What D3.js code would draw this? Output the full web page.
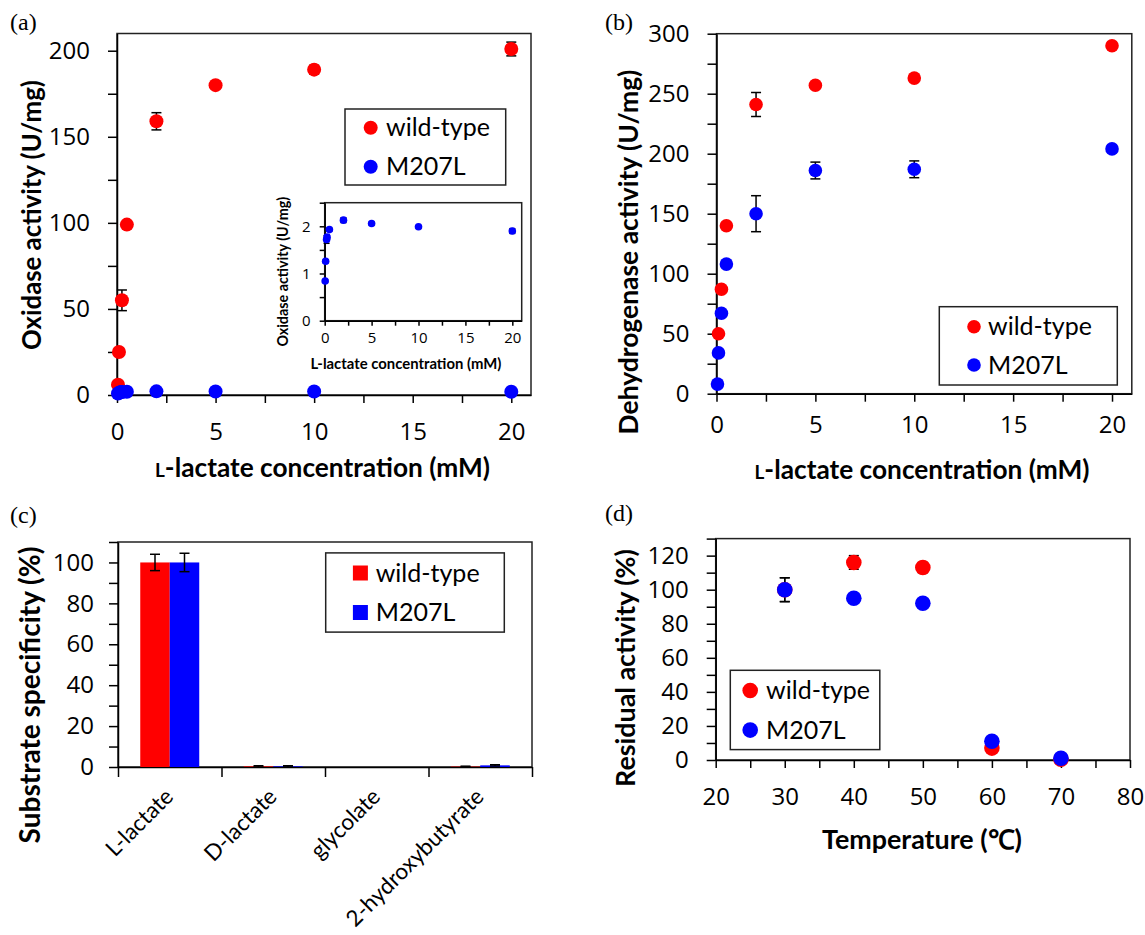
<!DOCTYPE html>
<html><head><meta charset="utf-8">
<script src="https://cdn.jsdelivr.net/npm/d3@7/dist/d3.min.js"></script>
<style>
body{margin:0;background:#fff;}
svg text{font-family:Lato, "Open Sans", sans-serif;fill:#000;}
svg .tick text{font-family:"Open Sans", Lato, sans-serif;}
</style></head>
<body><svg id="chart" width="1145" height="935"></svg>
<script>
// ---------- DATA ----------
// (a) oxidase activity
const concA_wt   = [0.05, 0.1, 0.25, 0.5, 2, 5, 10, 20];
const oxA_wt     = [6, 25, 55, 99, 159, 180, 189, 201];
const oxA_wtErr  = [0.5, 1, 6, 1.5, 5, 1.5, 2.5, 4];
const concA_mut  = [0.05, 0.1, 0.2, 0.25, 0.5, 2, 5, 10, 20];
const oxA_mut    = [0.84, 1.26, 1.72, 1.77, 1.93, 2.13, 2.06, 1.99, 1.90];
const oxA_mutErr = [0.02, 0.03, 0.08, 0.04, 0.03, 0.05, 0.03, 0.02, 0.05];
// (b) dehydrogenase activity
const concB_wt   = [0.1, 0.25, 0.5, 2, 5, 10, 20];
const dhB_wt     = [50, 87, 140, 241, 257, 263, 290];
const dhB_wtErr  = [1, 1, 1.5, 10, 2, 2, 2];
const concB_mut  = [0.05, 0.1, 0.25, 0.5, 2, 5, 10, 20];
const dhB_mut    = [8, 34, 67, 108, 150, 186, 187, 204];
const dhB_mutErr = [1, 1, 1, 1.5, 15, 7, 7, 2];
// (c) substrate specificity
const substrates = ["L-lactate", "D-lactate", "glycolate", "2-hydroxybutyrate"];
const specWt     = [100, 0.3, 0, 0.2];
const specWtErr  = [4, 0.3, 0, 0.2];
const specMut    = [100, 0.3, 0, 0.8];
const specMutErr = [4.5, 0.3, 0, 0.3];
// (d) thermal stability
const temps      = [30, 40, 50, 60, 70];
const resWt      = [100, 116, 113, 7, 0.5];
const resWtErr   = [7, 4, 3, 1, 0.5];
const resMut     = [100, 95, 92, 11, 1];
const resMutErr  = [7, 1.5, 1.5, 1, 0.5];
// series names / colours
const seriesNames  = ["wild-type", "M207L"];
const seriesColors = ["#ff0000", "#0000ff"];

// ---------- HELPERS ----------
const svg = d3.select("#chart");
const zip = (xs, ys, es) => xs.map((x, i) => ({x, y: ys[i], e: es[i]}));

function fit(sel, target) {
  const len = sel.node().getComputedTextLength();
  const fs = parseFloat(sel.style("font-size"));
  sel.style("font-size", (fs * target / len) + "px");
  return sel;
}
function box(l, t, r, b) {
  svg.append("rect").attr("x", l).attr("y", t).attr("width", r - l).attr("height", b - t)
    .attr("fill", "#fff").attr("stroke", "#222").attr("stroke-width", 1.5);
}
function bottomAxis(x, yPix, ticks, labelFn, fs, pad, tl) {
  const g = svg.append("g").attr("transform", `translate(0,${yPix})`)
    .call(d3.axisBottom(x).tickValues(ticks).tickSize(tl).tickSizeOuter(0).tickPadding(pad).tickFormat(labelFn));
  g.selectAll("text").style("font-size", fs + "px");
  g.selectAll("line,path").attr("stroke", "#000").attr("stroke-width", 1.5);
  return g;
}
function leftAxis(y, xPix, ticks, labelFn, fs, pad, tl) {
  const g = svg.append("g").attr("transform", `translate(${xPix},0)`)
    .call(d3.axisLeft(y).tickValues(ticks).tickSize(tl).tickSizeOuter(0).tickPadding(pad).tickFormat(labelFn));
  g.selectAll("text").style("font-size", fs + "px");
  g.selectAll("line,path").attr("stroke", "#000").attr("stroke-width", 1.5);
  return g;
}
function errorBars(pts, x, y, cap) {
  const g = svg.append("g").attr("stroke", "#000").attr("stroke-width", 1.5);
  pts.filter(d => d.e > 0).forEach(d => {
    const cx = x(d.x), y1 = y(d.y + d.e), y0 = y(Math.max(0, d.y - d.e));
    g.append("line").attr("x1", cx).attr("x2", cx).attr("y1", y1).attr("y2", y0);
    g.append("line").attr("x1", cx - cap).attr("x2", cx + cap).attr("y1", y1).attr("y2", y1);
    g.append("line").attr("x1", cx - cap).attr("x2", cx + cap).attr("y1", y0).attr("y2", y0);
  });
}
function dots(pts, x, y, r, color) {
  svg.append("g").selectAll("circle").data(pts).join("circle")
    .attr("cx", d => x(d.x)).attr("cy", d => y(d.y)).attr("r", r).attr("fill", color);
}
function yTitle(txt, cx, cy, len) {
  const t = svg.append("text").attr("transform", `translate(${cx},${cy}) rotate(-90)`)
    .attr("text-anchor", "middle").attr("dy", "0.35em")
    .style("font-size", "24px").style("font-weight", "bold").text(txt);
  fit(t, len);
}
function xTitle(txt, cx, cy, len, smallL) {
  const t = svg.append("text").attr("x", cx).attr("y", cy).attr("text-anchor", "middle")
    .attr("dy", "0.35em").style("font-size", "24px").style("font-weight", "bold");
  if (smallL) {
    t.append("tspan").style("font-size", "72%").text(txt.slice(0, 1));
    t.append("tspan").text(txt.slice(1));
  } else t.text(txt);
  fit(t, len);
}
function panelLabel(txt, x, y) {
  svg.append("text").attr("x", x).attr("y", y)
    .style("font-family", "'Liberation Serif', 'DejaVu Serif', serif").style("font-size", "24px").text(txt);
}
function legend(l, t, r, b, mx, ys, tx, fs, kind, size) {
  box(l, t, r, b);
  seriesNames.forEach((n, i) => {
    if (kind === "dot") svg.append("circle").attr("cx", mx).attr("cy", ys[i]).attr("r", size).attr("fill", seriesColors[i]);
    else svg.append("rect").attr("x", mx - size / 2).attr("y", ys[i] - size / 2).attr("width", size).attr("height", size).attr("fill", seriesColors[i]);
    svg.append("text").attr("x", tx).attr("y", ys[i]).attr("dy", "0.35em").style("font-size", fs + "px").text(n);
  });
}
const every = (step) => (d) => (Math.abs(d / step - Math.round(d / step)) < 1e-9 ? d3.format("~g")(d) : "");

const TFS = 24;   // tick font
const LFS = 25;   // legend font

// ---------- PANEL (a) ----------
{
  const x = d3.scaleLinear().domain([0, 21]).range([117, 531]);
  const y = d3.scaleLinear().domain([0, 210]).range([395, 33.5]);
  box(117, 33.5, 531, 395);
  bottomAxis(x, 395, d3.range(0, 20.01, 2.5), every(5), TFS, 20, 8);
  leftAxis(y, 117, d3.range(0, 200.1, 25), every(50), TFS, 18, 9);
  const wt = zip(concA_wt, oxA_wt, oxA_wtErr), mu = zip(concA_mut, oxA_mut, oxA_mutErr);
  errorBars(wt, x, y, 5); errorBars(mu, x, y, 5);
  dots(wt, x, y, 7, seriesColors[0]); dots(mu, x, y, 7, seriesColors[1]);
  legend(345, 109, 505.7, 185, 370.7, [127.7, 166.7], 386, LFS, "dot", 7);
  yTitle("Oxidase activity (U/mg)", 31.7, 215, 270);
  xTitle("L-lactate concentration (mM)", 322.5, 468, 335, true);
  panelLabel("(a)", 10, 30);

  // inset
  const xi = d3.scaleLinear().domain([0, 21]).range([324.7, 521.7]);
  const yi = d3.scaleLinear().domain([0, 2.5]).range([320.7, 202.7]);
  box(324.7, 202.7, 521.7, 320.7);
  bottomAxis(xi, 320.7, d3.range(0, 20.01, 2.5), every(5), 15, 7, 5);
  leftAxis(yi, 324.7, d3.range(0, 2.51, 0.5), every(1), 15, 9, 5);
  const mi = zip(concA_mut, oxA_mut, oxA_mutErr);
  errorBars(mi, xi, yi, 3);
  dots(mi, xi, yi, 3.8, seriesColors[1]);
  yTitle("Oxidase activity (U/mg)", 282.7, 271.7, 150);
  xTitle("L-lactate concentration (mM)", 406, 363.3, 191, false);
}

// ---------- PANEL (b) ----------
{
  const x = d3.scaleLinear().domain([0, 21]).range([716.5, 1131.8]);
  const y = d3.scaleLinear().domain([0, 300]).range([393.7, 33.7]);
  box(716.5, 33.7, 1131.8, 393.7);
  bottomAxis(x, 393.7, d3.range(0, 20.01, 2.5), every(5), TFS, 14, 8);
  leftAxis(y, 716.5, d3.range(0, 300.1, 25), every(50), TFS, 18, 9);
  const wt = zip(concB_wt, dhB_wt, dhB_wtErr), mu = zip(concB_mut, dhB_mut, dhB_mutErr);
  errorBars(wt, x, y, 5); errorBars(mu, x, y, 5);
  dots(wt, x, y, 6.8, seriesColors[0]); dots(mu, x, y, 6.8, seriesColors[1]);
  legend(939.3, 306.7, 1117.3, 385, 974, [326.7, 365], 988, LFS, "dot", 6.8);
  yTitle("Dehydrogenase activity (U/mg)", 629, 252, 365);
  xTitle("L-lactate concentration (mM)", 922, 470, 335, true);
  panelLabel("(b)", 605, 30);
}

// ---------- PANEL (c) ----------
{
  const x = d3.scaleBand().domain(substrates).range([118, 532]).padding(0);
  const bw = x.bandwidth();
  const xs = d3.scaleBand().domain(seriesNames).range([0.215 * bw, 0.785 * bw]).padding(0);
  const y = d3.scaleLinear().domain([0, 110]).range([767, 542]);
  box(118, 542, 532, 767);
  const xb = d3.scaleLinear().domain([0, substrates.length]).range([118, 532]);
  bottomAxis(xb, 767, d3.range(0, substrates.length + 0.01, 1), () => "", TFS, 0, 10);
  leftAxis(y, 118, d3.range(0, 110.1, 10), every(20), TFS, 15, 9);
  const series = [[specWt, specWtErr], [specMut, specMutErr]];
  series.forEach(([vals, errs], s) => {
    svg.append("g").selectAll("rect").data(substrates).join("rect")
      .attr("x", d => x(d) + xs(seriesNames[s])).attr("width", xs.bandwidth())
      .attr("y", (d, i) => y(vals[i])).attr("height", (d, i) => y(0) - y(vals[i]))
      .attr("fill", seriesColors[s]);
  });
  series.forEach(([vals, errs], s) => {
    const pts = substrates.map((d, i) => ({x: d, y: vals[i], e: errs[i]}));
    errorBars(pts, d => x(d) + xs(seriesNames[s]) + xs.bandwidth() / 2, y, 5);
  });
  const labs = svg.append("g").selectAll("text").data(substrates).join("text")
    .attr("transform", d => `translate(${x(d) + bw / 2 + 5},${767 + 31}) rotate(-45)`)
    .attr("text-anchor", "end").style("font-size", "24px").text(d => d);
  // scale all category labels so the longest one has the reference length
  const longest = labs.filter(d => d === "2-hydroxybutyrate");
  const fsC = 24 * 184 / longest.node().getComputedTextLength();
  labs.style("font-size", fsC + "px");
  legend(325.7, 552.9, 504.3, 632.1, 360.4, [573, 612.5], 375.7, LFS, "square", 15);
  yTitle("Substrate specificity (%)", 30.4, 695, 297);
  panelLabel("(c)", 10, 523);
}

// ---------- PANEL (d) ----------
{
  const x = d3.scaleLinear().domain([20, 80]).range([715.7, 1130]);
  const y = d3.scaleLinear().domain([0, 130]).range([760, 538.6]);
  box(715.7, 538.6, 1130, 760);
  bottomAxis(x, 760, d3.range(20, 80.01, 5), every(10), TFS, 20, 8);
  leftAxis(y, 715.7, d3.range(0, 130.1, 10), every(20), TFS, 18, 9);
  const wt = zip(temps, resWt, resWtErr), mu = zip(temps, resMut, resMutErr);
  errorBars(wt, x, y, 5); errorBars(mu, x, y, 5);
  dots(wt, x, y, 7.8, seriesColors[0]); dots(mu, x, y, 7.8, seriesColors[1]);
  legend(730.3, 670.3, 879.8, 749.6, 750.2, [690.5, 730.1], 766.1, LFS, "dot", 7.8);
  yTitle("Residual activity (%)", 626, 668, 238);
  xTitle("Temperature (℃)", 922, 840, 200, false);
  panelLabel("(d)", 605, 521);
}
</script></body></html>
